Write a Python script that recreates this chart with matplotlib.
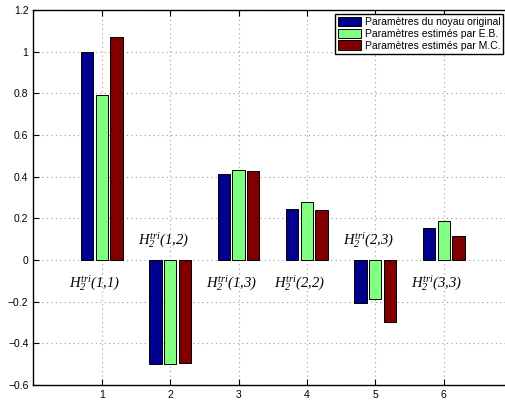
import numpy as np
import matplotlib.pyplot as plt

plt.rcParams['font.family'] = ['Liberation Sans', 'DejaVu Sans']
plt.rcParams['mathtext.fontset'] = 'custom'
plt.rcParams['mathtext.rm'] = 'Liberation Serif:italic'
plt.rcParams['mathtext.it'] = 'Liberation Serif:italic'

# coefficients du noyau H2 tri
positions = [1, 2, 3, 4, 5, 6]
original = [1.0, -0.5, 0.413, 0.247, -0.205, 0.152]
estime_eb = [0.79, -0.5, 0.431, 0.277, -0.189, 0.188]
estime_mc = [1.07, -0.495, 0.426, 0.239, -0.298, 0.114]
noms = ['(1{,}1)', '(1{,}2)', '(1{,}3)', '(2{,}2)', '(2{,}3)', '(3{,}3)']
label_y = [-0.11, 0.096, -0.11, -0.11, 0.096, -0.11]

legende = ['Paramètres du noyau original',
           'Paramètres estimés par E.B.',
           'Paramètres estimés par M.C.']
couleurs = ['#00008F', '#80FF80', '#800000']

fig = plt.figure(figsize=(5.05, 4.03), dpi=100)
ax = fig.add_axes([0.066, 0.045, 0.948, 0.930])

x = np.array(positions)
w = 0.18
d = 0.215
for k, serie in enumerate([original, estime_eb, estime_mc]):
    ax.bar(x + (k - 1) * d, serie, w, color=couleurs[k], edgecolor='black',
           linewidth=0.7, label=legende[k], zorder=3)

for i in range(len(noms)):
    ax.text(positions[i] - 0.1, label_y[i],
            r'$H_2^{tri}' + noms[i] + '$',
            ha='center', va='center', fontsize=10.5, zorder=4)

ax.set_xlim(0, 7)
ax.set_ylim(-0.6, 1.2)
ax.set_xticks(positions)
ax.set_yticks(np.arange(-0.6, 1.21, 0.2))
ax.set_yticklabels(['\u22120.6', '\u22120.4', '\u22120.2', '0', '0.2', '0.4',
                    '0.6', '0.8', '1', '1.2'])
ax.tick_params(direction='in', labelsize=7.5, top=True, right=True,
               length=4, width=0.8)
ax.grid(True, linestyle=(0, (1, 3)), color='#999999', linewidth=0.8)
for s in ax.spines.values():
    s.set_linewidth(1.0)

ax.legend(loc='upper right', bbox_to_anchor=(0.997, 0.966),
          bbox_transform=fig.transFigure, fontsize=7.5, fancybox=False,
          framealpha=1, edgecolor='black', borderpad=0.3, labelspacing=0.15,
          handlelength=2.2, handleheight=1.0, handletextpad=0.4,
          borderaxespad=0)

plt.savefig('out.png', dpi=100)
